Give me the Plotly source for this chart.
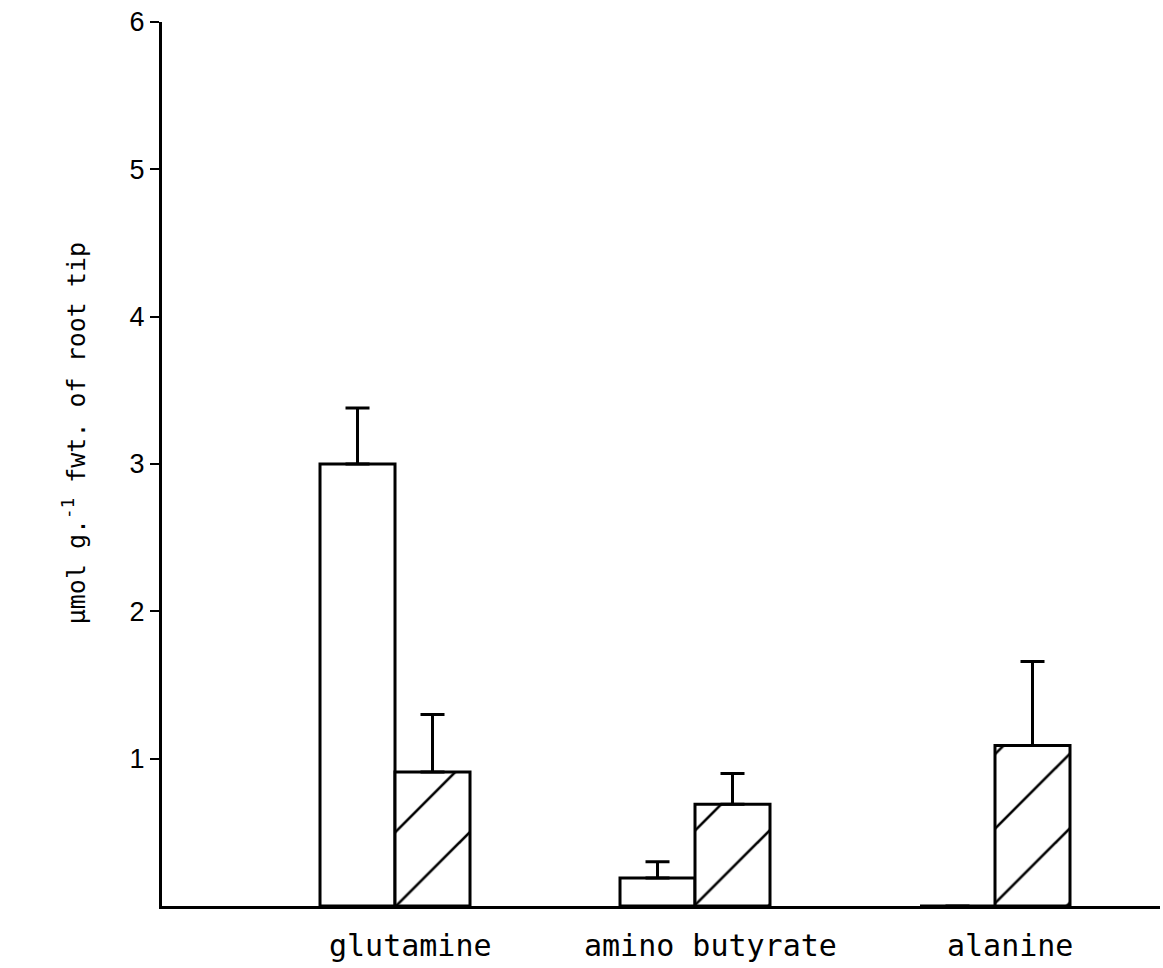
import plotly.graph_objects as go

categories = ["glutamine", "amino butyrate", "alanine"]
open_values = [3.0, 0.19, 0.0]
open_errors = [0.38, 0.11, 0.0]
hatched_values = [0.91, 0.69, 1.09]
hatched_errors = [0.39, 0.21, 0.57]
y_ticks = [1, 2, 3, 4, 5, 6]

fig = go.Figure()

fig.add_trace(go.Bar(
    x=categories, y=open_values,
    marker=dict(color="white", line=dict(color="black", width=3)),
    error_y=dict(type="data", array=open_errors, arrayminus=[0] * len(open_errors),
                 symmetric=False, color="black", thickness=3, width=12),
    showlegend=False,
))
fig.add_trace(go.Bar(
    x=categories, y=hatched_values,
    marker=dict(color="white", line=dict(color="black", width=3),
                pattern=dict(shape="/", size=52.7, solidity=0.05,
                             fgcolor="black", bgcolor="white", fillmode="replace")),
    error_y=dict(type="data", array=hatched_errors, arrayminus=[0] * len(hatched_errors),
                 symmetric=False, color="black", thickness=3, width=12),
    showlegend=False,
))

label_annotations = [
    dict(text=c, x=c, xref="x", y=0, yref="paper", xanchor="center", yanchor="top",
         xshift=15, yshift=-20, showarrow=False,
         font=dict(family="DejaVu Sans Mono", size=30, color="black"))
    for c in categories
]

fig.update_layout(
    width=1163, height=968,
    margin=dict(l=162, r=3, t=22, b=62),
    paper_bgcolor="white", plot_bgcolor="white",
    barmode="group", bargap=0.5, bargroupgap=0,
    font=dict(family="DejaVu Sans Mono", color="black"),
    xaxis=dict(
        type="category", range=[-0.7767, 2.55],
        showline=True, linecolor="black", linewidth=3,
        ticks="", showgrid=False, zeroline=False, showticklabels=False,
    ),
    yaxis=dict(
        range=[0, 6], tickvals=y_ticks, ticktext=[str(v) for v in y_ticks],
        showline=True, linecolor="black", linewidth=3,
        ticks="outside", ticklen=9, tickwidth=2, tickcolor="black",
        showgrid=False, zeroline=False,
        tickfont=dict(family="Liberation Sans", size=27, color="black"),
    ),
    annotations=[dict(
        text="μmol g.<sup>-1</sup> fwt. of root tip",
        textangle=-90, xref="paper", yref="paper",
        x=-0.088, y=0.535, xanchor="center", yanchor="middle",
        showarrow=False,
        font=dict(family="DejaVu Sans Mono", size=25, color="black"),
    )] + label_annotations,
)

fig.write_html("out.html")
